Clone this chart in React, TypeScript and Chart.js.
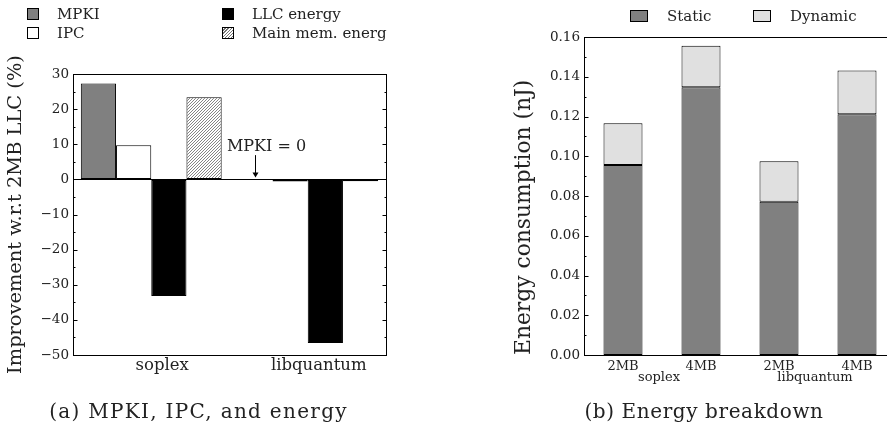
import { useEffect, useRef } from 'react';
import { Chart, registerables } from 'chart.js';

Chart.register(...registerables);

// ---------- Panel (a) data ----------
const benchmarks = ['soplex', 'libquantum'];
const seriesLabelsA = ['MPKI', 'IPC', 'LLC energy', 'Main mem. energ'];
const mpki = [27.3, 0];
const ipc = [9.7, -0.6];
const llcEnergy = [-33.2, -46.6];
const mainMemEnergy = [23.4, -0.5];
const improvementRange = [-50, 30];
const improvementStep = 10;
const annotationText = 'MPKI = 0';
const annotationTextValue = 9.4;
const annotationArrowFrom = 6.9;

// ---------- Panel (b) data ----------
const cacheSizes = ['2MB', '4MB', '2MB', '4MB'];
const seriesLabelsB = ['Static', 'Dynamic'];
const staticEnergy = [0.0956, 0.1347, 0.0771, 0.1211];
const dynamicEnergy = [0.021, 0.0209, 0.0204, 0.0221];
const energyRange = [0, 0.16];
const energyStep = 0.02;

const SERIF = "'DejaVu Serif', serif";
const TEXT = '#222';

function makeHatch(): CanvasPattern | string {
  const n = 3;
  const c = document.createElement('canvas');
  c.width = n;
  c.height = n;
  const g = c.getContext('2d');
  if (!g) return '#bbb';
  g.fillStyle = '#ffffff';
  g.fillRect(0, 0, n, n);
  g.strokeStyle = '#777777';
  g.lineWidth = 0.9;
  g.beginPath();
  g.moveTo(0, n);
  g.lineTo(n, 0);
  g.moveTo(-1, 1);
  g.lineTo(1, -1);
  g.moveTo(n - 1, n + 1);
  g.lineTo(n + 1, n - 1);
  g.stroke();
  return g.createPattern(c, 'repeat') || '#bbb';
}

function framePlugin(bothSides: boolean) {
  return {
    id: 'frame' + (bothSides ? 'A' : 'B'),
    afterDraw(chart: any) {
      const { ctx, chartArea } = chart;
      const y = chart.scales.y;
      const L = Math.round(chartArea.left) + 0.5;
      const R = Math.round(chartArea.right) + 0.5;
      const T = Math.round(chartArea.top) + 0.5;
      const B = Math.round(chartArea.bottom) + 0.5;
      ctx.save();
      ctx.strokeStyle = '#000';
      ctx.lineWidth = 1;
      ctx.strokeRect(L, T, R - L, B - T);
      const ticks = y.ticks.map((t: any) => t.value);
      const marks: [number, number][] = [];
      ticks.forEach((v: number, i: number) => {
        marks.push([v, 4]);
        if (i < ticks.length - 1) marks.push([(v + ticks[i + 1]) / 2, 2]);
      });
      ctx.beginPath();
      marks.forEach(([v, len]) => {
        const py = Math.round(y.getPixelForValue(v)) + 0.5;
        ctx.moveTo(L, py);
        ctx.lineTo(L + len, py);
        if (bothSides) {
          ctx.moveTo(R, py);
          ctx.lineTo(R - len, py);
        }
      });
      ctx.stroke();
      ctx.restore();
    },
  };
}

const annotationPlugin = {
  id: 'mpkiAnnotation',
  afterDraw(chart: any) {
    const { ctx } = chart;
    const y = chart.scales.y;
    const el = chart.getDatasetMeta(0).data[1];
    if (!el) return;
    const x = Math.round(el.x) + 0.5;
    const y0 = y.getPixelForValue(0);
    const yFrom = y.getPixelForValue(annotationArrowFrom);
    ctx.save();
    ctx.strokeStyle = '#000';
    ctx.fillStyle = '#000';
    ctx.lineWidth = 1;
    ctx.beginPath();
    ctx.moveTo(x, yFrom);
    ctx.lineTo(x, y0 - 6);
    ctx.stroke();
    ctx.beginPath();
    ctx.moveTo(x - 3, y0 - 7);
    ctx.lineTo(x + 3, y0 - 7);
    ctx.lineTo(x, y0 - 2);
    ctx.closePath();
    ctx.fill();
    ctx.font = `16px ${SERIF}`;
    ctx.fillStyle = TEXT;
    ctx.textAlign = 'center';
    ctx.textBaseline = 'middle';
    ctx.fillText(annotationText, x + 11, y.getPixelForValue(annotationTextValue));
    ctx.restore();
  },
};

const groupLabelPlugin = {
  id: 'groupLabels',
  afterDraw(chart: any) {
    const { ctx } = chart;
    const x = chart.scales.x;
    ctx.save();
    ctx.font = `13px ${SERIF}`;
    ctx.fillStyle = TEXT;
    ctx.textAlign = 'center';
    ctx.textBaseline = 'middle';
    benchmarks.forEach((b, j) => {
      const mid = (x.getPixelForValue(2 * j) + x.getPixelForValue(2 * j + 1)) / 2;
      ctx.fillText(b, mid - 3, 378);
    });
    ctx.restore();
  },
};

const minus = (v: number) => (v < 0 ? '\u2212' + Math.abs(v) : String(v));

export default function App() {
  const leftRef = useRef<HTMLCanvasElement>(null);
  const rightRef = useRef<HTMLCanvasElement>(null);

  useEffect(() => {
    if (!leftRef.current || !rightRef.current) return;
    const hatch = makeHatch();
    const colorsA = ['#808080', '#ffffff', '#000000', hatch];
    const valuesA = [mpki, ipc, llcEnergy, mainMemEnergy];

    const left = new Chart(leftRef.current, {
      type: 'bar',
      data: {
        labels: benchmarks,
        datasets: valuesA.map((vals, i) => ({
          label: seriesLabelsA[i],
          data: vals,
          backgroundColor: colorsA[i] as any,
          borderColor: '#000',
          borderWidth: 1,
          borderSkipped: false,
          categoryPercentage: 0.9,
          barPercentage: 1,
        })),
      },
      options: {
        animation: false,
        responsive: false,
        events: [],
        layout: { padding: { left: 0, right: 57, top: 74, bottom: 41 } },
        plugins: { legend: { display: false }, tooltip: { enabled: false } },
        scales: {
          x: {
            grid: { display: false, drawTicks: false, tickLength: 0 },
            border: { display: false },
            ticks: { font: { family: SERIF, size: 16.5 }, color: TEXT, padding: 1, labelOffset: 11 },
            afterFit: (s: any) => {
              s.height = 30;
            },
          },
          y: {
            min: improvementRange[0],
            max: improvementRange[1],
            ticks: {
              stepSize: improvementStep,
              font: { family: SERIF, size: 13.5 },
              color: TEXT,
              padding: 4,
              callback: (v: any) => minus(Number(v)),
            },
            grid: {
              drawTicks: false,
              tickLength: 0,
              color: (c: any) => (c.tick && c.tick.value === 0 ? '#000' : 'rgba(0,0,0,0)'),
            },
            border: { display: false },
            title: {
              display: true,
              text: 'Improvement w.r.t 2MB LLC (%)',
              font: { family: SERIF, size: 19.4 },
              color: TEXT,
              padding: { top: 4.4, bottom: 0 },
            },
            afterFit: (s: any) => {
              s.width = 73;
            },
          },
        },
      },
      plugins: [framePlugin(true), annotationPlugin],
    } as any);

    const colorsB = ['#808080', '#e0e0e0'];
    const valuesB = [staticEnergy, dynamicEnergy];
    const right = new Chart(rightRef.current, {
      type: 'bar',
      data: {
        labels: cacheSizes,
        datasets: valuesB.map((vals, i) => ({
          label: seriesLabelsB[i],
          data: vals,
          backgroundColor: colorsB[i],
          borderColor: '#000',
          borderWidth: 1,
          borderSkipped: false,
          categoryPercentage: 1,
          barPercentage: 0.5,
        })),
      },
      options: {
        animation: false,
        responsive: false,
        events: [],
        layout: { padding: { left: 64, right: 18, top: 37, bottom: 41 } },
        plugins: { legend: { display: false }, tooltip: { enabled: false } },
        scales: {
          x: {
            stacked: true,
            grid: { display: false, drawTicks: false, tickLength: 0 },
            border: { display: false },
            ticks: { font: { family: SERIF, size: 13 }, color: TEXT, padding: 4 },
            afterFit: (s: any) => {
              s.height = 30;
            },
          },
          y: {
            stacked: true,
            min: energyRange[0],
            max: energyRange[1],
            ticks: {
              stepSize: energyStep,
              font: { family: SERIF, size: 13.5 },
              color: TEXT,
              padding: 4,
              callback: (v: any) => Number(v).toFixed(2),
            },
            grid: { display: false, drawTicks: false, tickLength: 0 },
            border: { display: false },
            title: {
              display: true,
              text: 'Energy consumption (nJ)',
              align: 'start',
              font: { family: SERIF, size: 21.8 },
              color: TEXT,
              padding: { top: 3, bottom: 0 },
            },
            afterFit: (s: any) => {
              s.width = 76;
            },
          },
        },
      },
      plugins: [framePlugin(false), groupLabelPlugin],
    } as any);

    return () => {
      left.destroy();
      right.destroy();
    };
  }, []);

  const hatchCss =
    'repeating-linear-gradient(135deg, #ffffff 0px, #ffffff 1.3px, #777777 1.3px, #777777 2.2px)';
  const legendA = [
    { label: seriesLabelsA[0], bg: '#808080', x: 27, y: 8 },
    { label: seriesLabelsA[1], bg: '#ffffff', x: 27, y: 27 },
    { label: seriesLabelsA[2], bg: '#000000', x: 222, y: 8 },
    { label: seriesLabelsA[3], bg: hatchCss, x: 222, y: 27 },
  ];
  const legendB = [
    { label: seriesLabelsB[0], bg: '#808080', x: 630 },
    { label: seriesLabelsB[1], bg: '#e0e0e0', x: 753 },
  ];

  const textStyle: any = {
    position: 'absolute',
    fontFamily: SERIF,
    fontSize: 15,
    lineHeight: '18px',
    color: TEXT,
    whiteSpace: 'nowrap',
  };

  const captionStyle: any = {
    position: 'absolute',
    top: 398,
    textAlign: 'center',
    fontFamily: SERIF,
    fontSize: 20,
    lineHeight: '26px',
    color: TEXT,
    whiteSpace: 'nowrap',
  };

  return (
    <div
      style={{
        position: 'fixed',
        left: 0,
        top: 0,
        width: 887,
        height: 426,
        overflow: 'hidden',
        background: '#fff',
      }}
    >
      <canvas
        ref={leftRef}
        width={443}
        height={426}
        style={{ position: 'absolute', left: 0, top: 0, width: 443, height: 426 }}
      />
      <canvas
        ref={rightRef}
        width={470}
        height={426}
        style={{ position: 'absolute', left: 444, top: 0, width: 470, height: 426 }}
      />
      {legendA.map((it) => (
        <div key={it.label}>
          <div
            style={{
              position: 'absolute',
              left: it.x,
              top: it.y,
              width: 12,
              height: 12,
              boxSizing: 'border-box',
              border: '1px solid #000',
              background: it.bg,
            }}
          />
          <div style={{ ...textStyle, left: it.x + 30, top: it.y - 3 }}>{it.label}</div>
        </div>
      ))}
      {legendB.map((it) => (
        <div key={it.label}>
          <div
            style={{
              position: 'absolute',
              left: it.x,
              top: 10,
              width: 18,
              height: 12,
              boxSizing: 'border-box',
              border: '1px solid #000',
              background: it.bg,
            }}
          />
          <div style={{ ...textStyle, left: it.x + 37, top: 7 }}>{it.label}</div>
        </div>
      ))}
      <div style={{ ...captionStyle, left: 0, width: 397, letterSpacing: '1.3px' }}>
        (a) MPKI, IPC, and energy
      </div>
      <div style={{ ...captionStyle, left: 504, width: 400, letterSpacing: '0.6px' }}>
        (b) Energy breakdown
      </div>
    </div>
  );
}
